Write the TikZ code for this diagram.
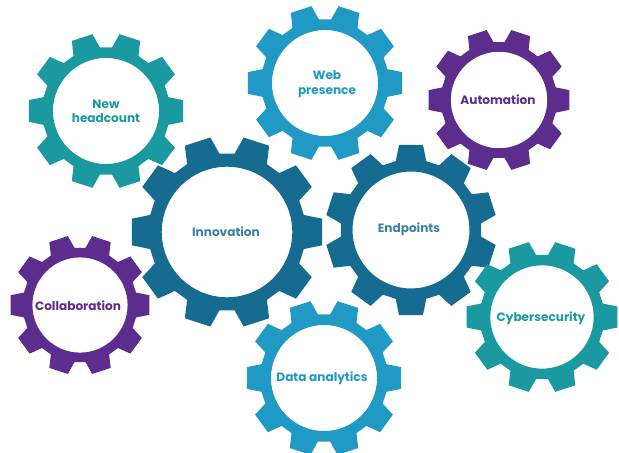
\documentclass[tikz,border=0pt]{standalone}
\usepackage{fontspec}
\setmainfont{Poppins}
\definecolor{gearteal}{RGB}{26,154,160}
\definecolor{gearblue}{RGB}{32,154,196}
\definecolor{geardark}{RGB}{22,108,144}
\definecolor{gearpurple}{RGB}{92,45,140}
% gear: centre, tip radius, rotation, colour
\newcommand{\gear}[4]{%
  \fill[#4, even odd rule, shift={#1}, rotate=#3]
    (-12.5:0.82*#2) \foreach \k in {0,...,9} {
      -- (\k*36-12.5:0.82*#2) -- (\k*36-8:#2) -- (\k*36+8:#2) -- (\k*36+12.5:0.82*#2)}
    -- cycle (0,0) circle[radius=0.68*#2];
}
\tikzset{geartext/.style={font=\bfseries\fontsize{8.6}{10.2}\selectfont, align=center}}

\begin{document}
\begin{tikzpicture}[x=0.025cm,y=-0.025cm]
        \useasboundingbox (0,0) rectangle (619,453);
        % Draw the gears
        \gear{(106,111)}{78}{0}{gearteal}
        \gear{(325,83)}{78}{0}{gearblue}
        \gear{(499,100)}{71}{0}{gearpurple}
        \gear{(227,232)}{96}{0}{geardark}
        \gear{(411,230)}{86}{18}{geardark}
        \gear{(80,305)}{70}{0}{gearpurple}
        \gear{(324,378)}{78}{0}{gearblue}
        \gear{(542,317)}{76}{0}{gearteal}
        % Labels in the middle of each gear
        \node[geartext, text=gearteal] (headcount) at (106,111) {New\\headcount};
        \node[geartext, text=gearblue] (web) at (327,84) {Web\\presence};
        \node[geartext, text=gearpurple] (automation) at (498,100) {Automation};
        \node[geartext, text=geardark!85!white] (innovation) at (226,232) {Innovation};
        \node[geartext, text=geardark!85!white] (endpoints) at (409,229) {Endpoints};
        \node[geartext, text=gearpurple] (collaboration) at (78,306) {Collaboration};
        \node[geartext, text=gearblue] (analytics) at (322,378) {Data analytics};
        \node[geartext, text=gearteal] (cyber) at (541,318) {Cybersecurity};
      \end{tikzpicture}
\end{document}
